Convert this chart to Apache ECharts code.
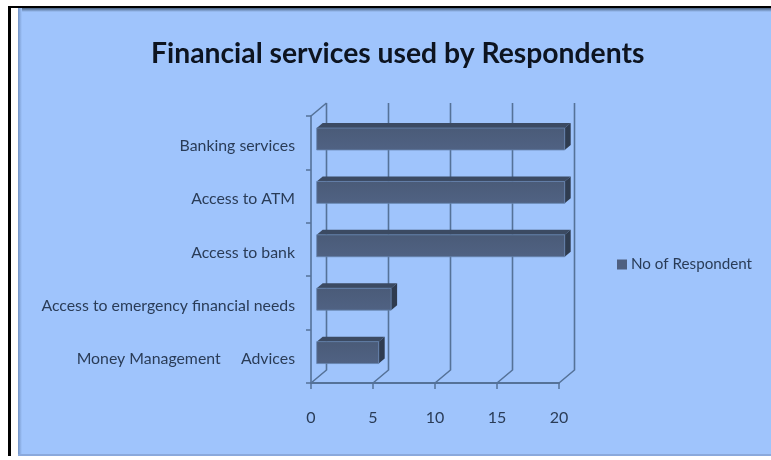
<!DOCTYPE html>
<html>
<head>
<meta charset="utf-8">
<style>html,body{margin:0;padding:0;background:#fff}#chart{width:771px;height:460px}</style>
<script src="https://cdn.jsdelivr.net/npm/echarts@6/dist/echarts.min.js"></script>
</head>
<body>
<div id="chart"></div>
<script>
// Respondent counts per financial service, listed from the top row down
const categories = ['Banking services', 'Access to ATM', 'Access to bank', 'Access to emergency financial needs', 'Money Management     Advices'];
const respondents = [20, 20, 20, 6, 5];
const valueTicks = [0, 5, 10, 15, 20];
const seriesName = 'No of Respondent';
const chartTitle = 'Financial services used by Respondents';

const FONT = 'Lato, "Open Sans", sans-serif';
const INK = '#2a3c57';
const AXIS = '#557298';
// Oblique offset of the back wall and of the bar depth
const WALL_DX = 15.5, WALL_DY = -13;
const BAR_DX = 6, BAR_DY = -5;

const chart = echarts.init(document.getElementById('chart'), null, { renderer: 'canvas' });

// Back wall lines: up the wall from the floor, with a short diagonal to the front edge
function renderWall(params, api) {
  const sys = params.coordSys;
  const x = api.coord([api.value(0), 0])[0];
  const bottom = sys.y + sys.height, top = sys.y;
  const children = [{
    type: 'polyline',
    shape: { points: [[x, bottom], [x + WALL_DX, bottom + WALL_DY], [x + WALL_DX, top + WALL_DY]] },
    style: { stroke: AXIS, lineWidth: 1.6, fill: null }
  }];
  if (api.value(0) === 0) {
    children.push({
      type: 'line',
      shape: { x1: x, y1: top, x2: x + WALL_DX, y2: top + WALL_DY },
      style: { stroke: AXIS, lineWidth: 1.6 }
    });
  }
  return { type: 'group', children };
}

// Box-shaped bar: front face, top face and right-hand side face
function renderBar(params, api) {
  const start = api.coord([0, api.value(1)]);
  const end = api.coord([api.value(0), api.value(1)]);
  const h = api.size([0, 1])[1] * 0.41;
  const x0 = start[0] + 5.7, x1 = end[0] + 5.7;
  const y0 = start[1] - 3.7 - h / 2, y1 = y0 + h;
  return {
    type: 'group',
    children: [
      { type: 'polygon', shape: { points: [[x0, y0], [x0 + BAR_DX, y0 + BAR_DY], [x1 + BAR_DX, y0 + BAR_DY], [x1, y0]] },
        style: { fill: '#3b4a62' } },
      { type: 'polygon', shape: { points: [[x1, y0], [x1 + BAR_DX, y0 + BAR_DY], [x1 + BAR_DX, y1 + BAR_DY], [x1, y1]] },
        style: { fill: '#2f3c50' } },
      { type: 'rect', shape: { x: x0, y: y0, width: x1 - x0, height: h },
        style: {
          fill: new echarts.graphic.LinearGradient(0, 0, 0, 1, [
            { offset: 0, color: '#4a5b78' }, { offset: 1, color: '#506283' }
          ]),
          stroke: '#6583ad', lineWidth: 0.8
        } }
    ]
  };
}

chart.setOption({
  animation: false,
  backgroundColor: '#ffffff',
  title: {
    text: chartTitle,
    left: 146, top: 35,
    textStyle: { fontFamily: FONT, fontSize: 28.3, fontWeight: 'bold', color: '#0d1420' }
  },
  legend: {
    data: [seriesName],
    left: 612, top: 252,
    icon: 'rect', itemWidth: 10, itemHeight: 10, itemGap: 3,
    textStyle: { fontFamily: FONT, fontSize: 15.2, color: INK, padding: [0, 0, 0, -1] }
  },
  graphic: [
    // Page frame and the blue chart panel, with the panel's darker top and left edges
    { type: 'rect', z: -10, silent: true, shape: { x: 8, y: 6, width: 763, height: 450 }, style: { fill: '#000000' } },
    { type: 'rect', z: -10, silent: true, shape: { x: 11, y: 8, width: 760, height: 448 }, style: { fill: '#ffffff' } },
    { type: 'rect', z: -10, silent: true, shape: { x: 18, y: 8, width: 753, height: 448 }, style: { fill: '#9fc4fc' } },
    { type: 'rect', z: -10, silent: true, shape: { x: 18, y: 8, width: 753, height: 4 },
      style: { fill: new echarts.graphic.LinearGradient(0, 0, 0, 1, [{ offset: 0, color: '#47607f' }, { offset: 1, color: '#9fc4fc' }]) } },
    { type: 'rect', z: -10, silent: true, shape: { x: 18, y: 8, width: 4, height: 448 },
      style: { fill: new echarts.graphic.LinearGradient(0, 0, 1, 0, [{ offset: 0, color: '#7393c4' }, { offset: 1, color: '#9fc4fc' }]) } },
    { type: 'rect', z: -10, silent: true, shape: { x: 18, y: 454, width: 753, height: 2 }, style: { fill: '#8aa9dc' } }
  ],
  grid: { left: 311, top: 116, width: 248, height: 267 },
  xAxis: {
    type: 'value', position: 'bottom', min: 0, max: 20, interval: 5,
    splitLine: { show: false },
    axisLine: { show: true, lineStyle: { color: AXIS, width: 2 } },
    axisTick: { show: true, length: 6, lineStyle: { color: AXIS, width: 1.5 } },
    axisLabel: {
      margin: 27, fontFamily: FONT, fontSize: 16, color: INK,
      formatter: v => valueTicks.includes(v) ? String(v) : ''
    }
  },
  yAxis: {
    type: 'category', inverse: true, data: categories,
    axisLine: { show: true, onZero: false, lineStyle: { color: AXIS, width: 1.6 } },
    axisTick: { show: true, length: 5, alignWithLabel: false, lineStyle: { color: AXIS, width: 1.5 } },
    axisLabel: { margin: 16, fontFamily: FONT, fontSize: 15.85, color: INK, verticalAlign: 'top', lineHeight: 6 }
  },
  series: [
    {
      type: 'custom', silent: true, z: 1,
      coordinateSystem: 'cartesian2d',
      data: valueTicks.map(v => [v, 0]),
      encode: { x: 0, y: 1 },
      renderItem: renderWall
    },
    {
      name: seriesName, type: 'custom', z: 2,
      coordinateSystem: 'cartesian2d',
      itemStyle: { color: '#4f6080' },
      data: respondents.map((v, i) => [v, i]),
      encode: { x: 0, y: 1 },
      renderItem: renderBar
    }
  ]
});
</script>
</body>
</html>
